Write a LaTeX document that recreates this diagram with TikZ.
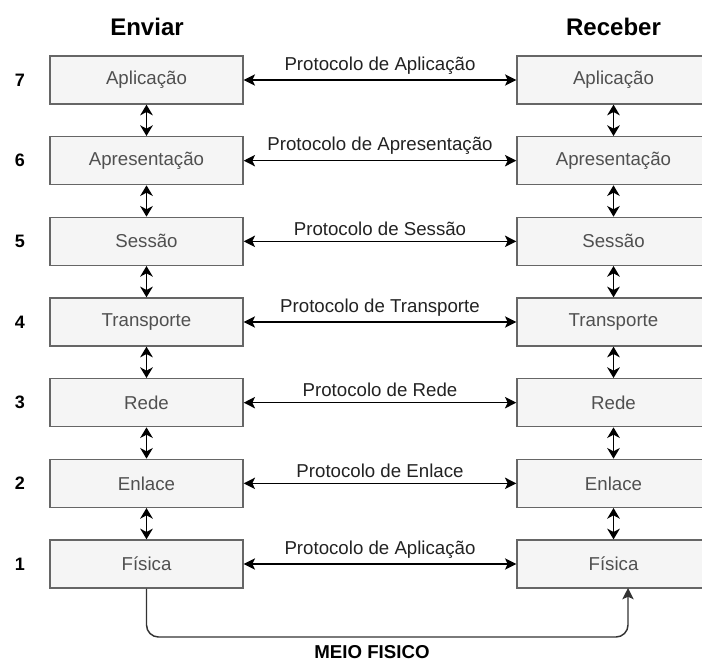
\documentclass[tikz,border=0pt]{standalone}
\usepackage{fontspec}
\setmainfont{Liberation Sans}
\usepackage{xcolor}
\usetikzlibrary{arrows.meta}

\begin{document}
\begin{tikzpicture}[x=0.75pt,y=0.75pt,yscale=-1,xscale=1,
  camada/.style={draw={rgb, 255:red, 102; green, 102; blue, 102}, fill={rgb, 255:red, 245; green, 245; blue, 245}, line width=1pt, minimum width=144.75pt, minimum height=36pt, inner sep=0pt, font=\fontsize{14}{16}\selectfont, text={rgb, 255:red, 80; green, 80; blue, 80}},
  seta/.style={{Stealth[length=8.5pt,width=8.5pt,inset=2pt]}-{Stealth[length=8.5pt,width=8.5pt,inset=2pt]}, line width=1.1pt},
  setav/.style={{Stealth[length=8pt,width=9.5pt,inset=2.5pt]}-{Stealth[length=8pt,width=9.5pt,inset=2.5pt]}, line width=1.3pt},
  rotulo/.style={font=\fontsize{14}{16}\selectfont, inner sep=0.75pt, text={rgb, 255:red, 34; green, 34; blue, 34}},
  numero/.style={font=\fontsize{13.5}{15}\selectfont\bfseries, inner sep=0.75pt}]
\clip (0,0) rectangle (702,663);

% Titulos
\node [font=\fontsize{18}{20}\selectfont\bfseries] (tenviar) at (147,27) {Enviar};
\node [font=\fontsize{18}{20}\selectfont\bfseries] (treceber) at (613.5,27) {Receber};

%Camadas enviar
\node [camada] (e7) at (146.5,80) {Aplicação};
\node [camada] (e6) at (146.5,160.67) {Apresentação};
\node [camada] (e5) at (146.5,241.33) {Sessão};
\node [camada] (e4) at (146.5,322) {Transporte};
\node [camada] (e3) at (146.5,402.67) {Rede};
\node [camada] (e2) at (146.5,483.33) {Enlace};
\node [camada] (e1) at (146.5,564) {Física};

%Camadas receber
\node [camada] (r7) at (613.5,80) {Aplicação};
\node [camada] (r6) at (613.5,160.67) {Apresentação};
\node [camada] (r5) at (613.5,241.33) {Sessão};
\node [camada] (r4) at (613.5,322) {Transporte};
\node [camada] (r3) at (613.5,402.67) {Rede};
\node [camada] (r2) at (613.5,483.33) {Enlace};
\node [camada] (r1) at (613.5,564) {Física};

% Numeros
\node [numero] (n7) at (20,80) {7};
\node [numero] (n6) at (20,160.67) {6};
\node [numero] (n5) at (20,241.33) {5};
\node [numero] (n4) at (20,322) {4};
\node [numero] (n3) at (20,402.67) {3};
\node [numero] (n2) at (20,483.33) {2};
\node [numero] (n1) at (20,564) {1};

%Setas verticais
\draw [setav] (e7) -- (e6);
\draw [setav] (e6) -- (e5);
\draw [setav] (e5) -- (e4);
\draw [setav] (e4) -- (e3);
\draw [setav] (e3) -- (e2);
\draw [setav] (e2) -- (e1);
\draw [setav] (r7) -- (r6);
\draw [setav] (r6) -- (r5);
\draw [setav] (r5) -- (r4);
\draw [setav] (r4) -- (r3);
\draw [setav] (r3) -- (r2);
\draw [setav] (r2) -- (r1);

%Protocolos
\draw [seta] (e7) -- (r7) node [rotulo, midway, above=3pt] (p7) {Protocolo de Aplicação};
\draw [seta] (e6) -- (r6) node [rotulo, midway, above=3pt] (p6) {Protocolo de Apresentação};
\draw [seta] (e5) -- (r5) node [rotulo, midway, above=3pt] (p5) {Protocolo de Sessão};
\draw [seta] (e4) -- (r4) node [rotulo, midway, above=3pt] (p4) {Protocolo de Transporte};
\draw [seta] (e3) -- (r3) node [rotulo, midway, above=3pt] (p3) {Protocolo de Rede};
\draw [seta] (e2) -- (r2) node [rotulo, midway, above=3pt] (p2) {Protocolo de Enlace};
\draw [seta] (e1) -- (r1) node [rotulo, midway, above=3pt] (p1) {Protocolo de Aplicação};

%Meio fisico
\coordinate (fundo) at (380,637);
\coordinate (chegada) at (628,588);
\draw [line width=1.1pt, color={rgb, 255:red, 51; green, 51; blue, 51}, rounded corners=9pt, -{Stealth[length=8.5pt,width=8.5pt,inset=2pt]}] (e1.south) |- (fundo) -| (chegada);
\node [font=\fontsize{14}{16}\selectfont\bfseries, inner sep=0.75pt] (meio) at (372,652) {MEIO FISICO};
\end{tikzpicture}
\end{document}
